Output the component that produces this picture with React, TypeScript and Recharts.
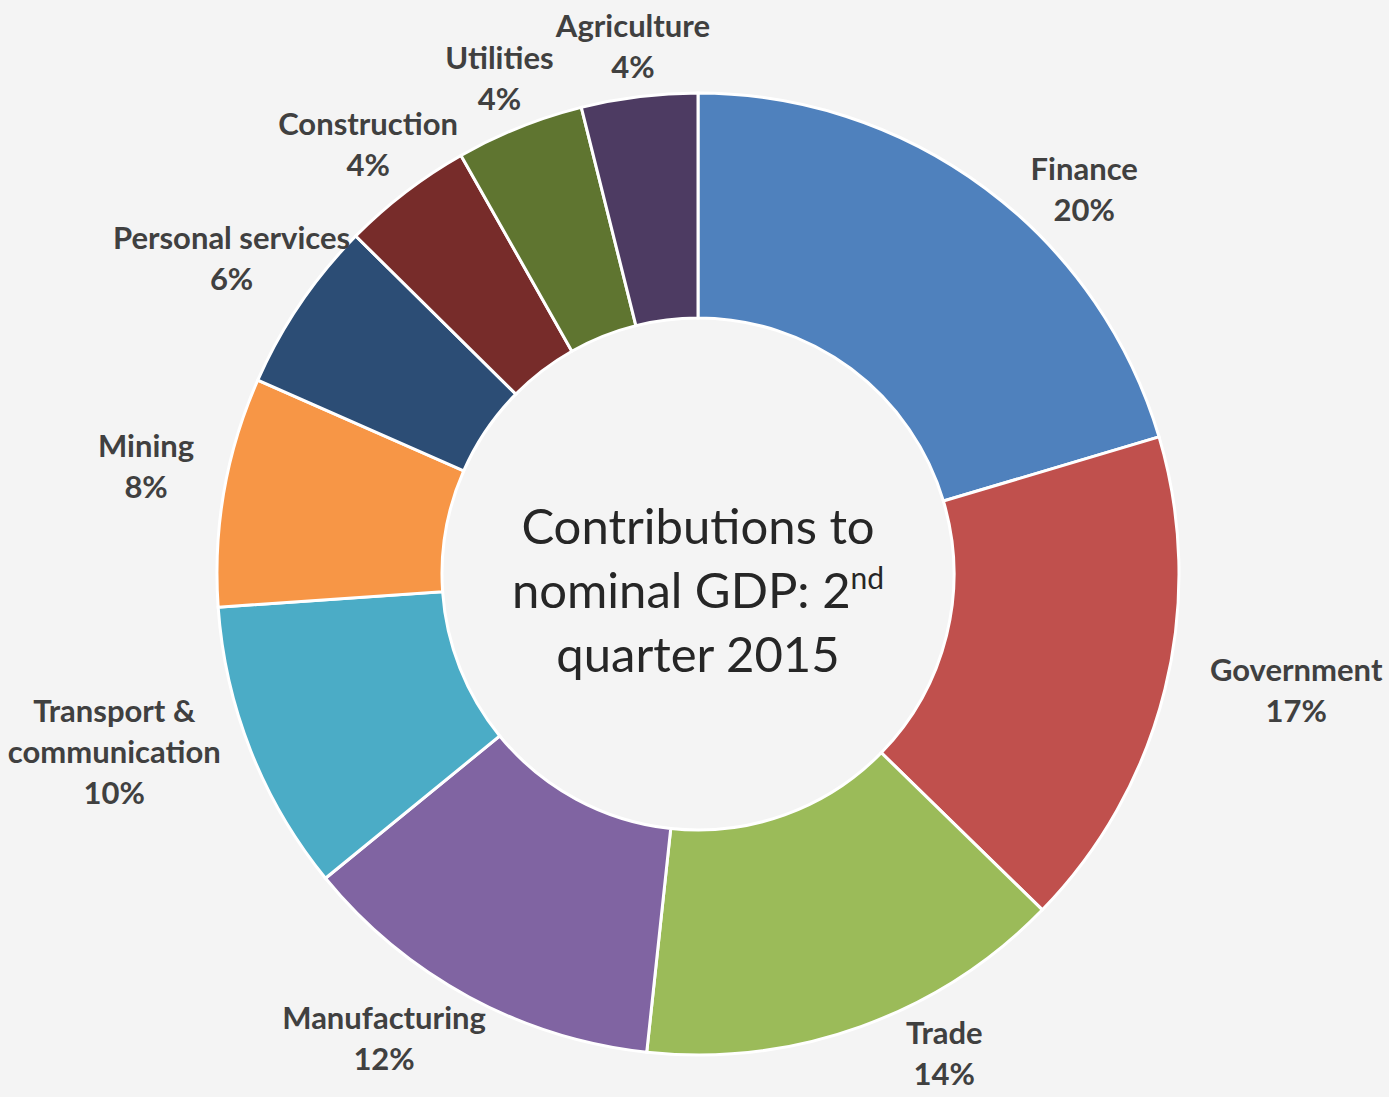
import React from 'react';
import { PieChart, Pie, Cell } from 'recharts';

// shares of nominal GDP, 2nd quarter 2015
const sectors = [
  'Finance',
  'Government',
  'Trade',
  'Manufacturing',
  'Transport &\ncommunication',
  'Mining',
  'Personal services',
  'Construction',
  'Utilities',
  'Agriculture',
];
const shares = [20.4, 16.9, 14.4, 12.4, 9.8, 7.7, 5.8, 4.4, 4.3, 3.9];
const colors = [
  '#4F81BD', '#C0504D', '#9BBB59', '#8064A2', '#4BACC6',
  '#F79646', '#2C4D75', '#772C2A', '#5F7530', '#4D3B62',
];

const data = sectors.map((name, i) => ({ name, value: shares[i] }));

const W = 1389;
const H = 1097;
const CX = 698;
const CY = 574;
const OUTER = 481;
const INNER = 256;
const FONT = 31;
const LINE = 41;
const RAD = Math.PI / 180;
const LABEL_FONT = `bold ${FONT}px Lato, 'Open Sans', sans-serif`;

let ctx: CanvasRenderingContext2D | null = null;
const textWidth = (s: string) => {
  if (!ctx) ctx = document.createElement('canvas').getContext('2d');
  if (!ctx) return s.length * FONT * 0.55;
  ctx.font = LABEL_FONT;
  return ctx.measureText(s).width;
};

// rough imitation of Excel's "outside end" placement
const renderLabel = (props: any) => {
  const { cx, cy, midAngle, outerRadius, name, percent } = props;
  const lines: string[] = [...String(name).split('\n'), `${Math.round(percent * 100)}%`];
  const ux = Math.cos(-midAngle * RAD);
  const uy = Math.sin(-midAngle * RAD);
  const hw = Math.max(...lines.map(textWidth)) / 2;
  const hh = (lines.length * LINE) / 2;
  const ax = cx + outerRadius * ux;
  const ay = cy + outerRadius * uy;
  let x: number;
  let y: number;
  if (ux >= 0) {
    // right of the ring
    x = ax + hw + 45;
    y = ay + Math.max(0, uy - 0.5) * 2 * hh;
  } else if (Math.abs(ux) > 0.9) {
    // left of the ring
    x = ax - hw - 30;
    y = ay + Math.min(0, uy) * 150;
  } else if (uy > 0) {
    // below the ring
    x = ax + ux * hw * 1.75;
    y = ay + hh;
  } else {
    // above: push the box out along the slice's middle ray
    const t = Math.min(hw / Math.abs(ux), hh / Math.abs(uy));
    const r = outerRadius + 10 + t;
    x = cx + r * ux;
    y = cy + r * uy;
  }
  y = Math.min(y, H - 4 - hh);
  const top = y - hh + LINE / 2;
  return (
    <text
      x={x}
      y={top}
      textAnchor="middle"
      dominantBaseline="central"
      fill="#404040"
      fontSize={FONT}
      fontWeight="bold"
      fontFamily="Lato, 'Open Sans', sans-serif"
    >
      {lines.map((l, i) => (
        <tspan key={i} x={x} y={top + i * LINE}>
          {l}
        </tspan>
      ))}
    </text>
  );
};

export default function App() {
  return (
    <div
      style={{
        position: 'fixed',
        left: 0,
        top: 0,
        width: W,
        height: H,
        background: '#F4F4F4',
      }}
    >
      <PieChart width={W} height={H} margin={{ top: 0, right: 0, bottom: 0, left: 0 }}>
        <Pie
          data={data}
          dataKey="value"
          nameKey="name"
          cx={CX}
          cy={CY}
          innerRadius={INNER}
          outerRadius={OUTER}
          startAngle={90}
          endAngle={-270}
          stroke="#ffffff"
          strokeWidth={3}
          label={renderLabel}
          labelLine={false}
          isAnimationActive={false}
        >
          {data.map((d, i) => (
            <Cell key={d.name} fill={colors[i]} />
          ))}
        </Pie>
      </PieChart>
      <div
        style={{
          position: 'absolute',
          left: CX - 230,
          top: CY - 81,
          width: 460,
          textAlign: 'center',
          fontFamily: "Lato, 'Open Sans', sans-serif",
          fontSize: 49,
          lineHeight: '64px',
          color: '#262626',
        }}
      >
        Contributions to
        <br />
        nominal GDP: 2<sup style={{ fontSize: 30, verticalAlign: 'top', lineHeight: '40px' }}>nd</sup>
        <br />
        quarter 2015
      </div>
    </div>
  );
}
